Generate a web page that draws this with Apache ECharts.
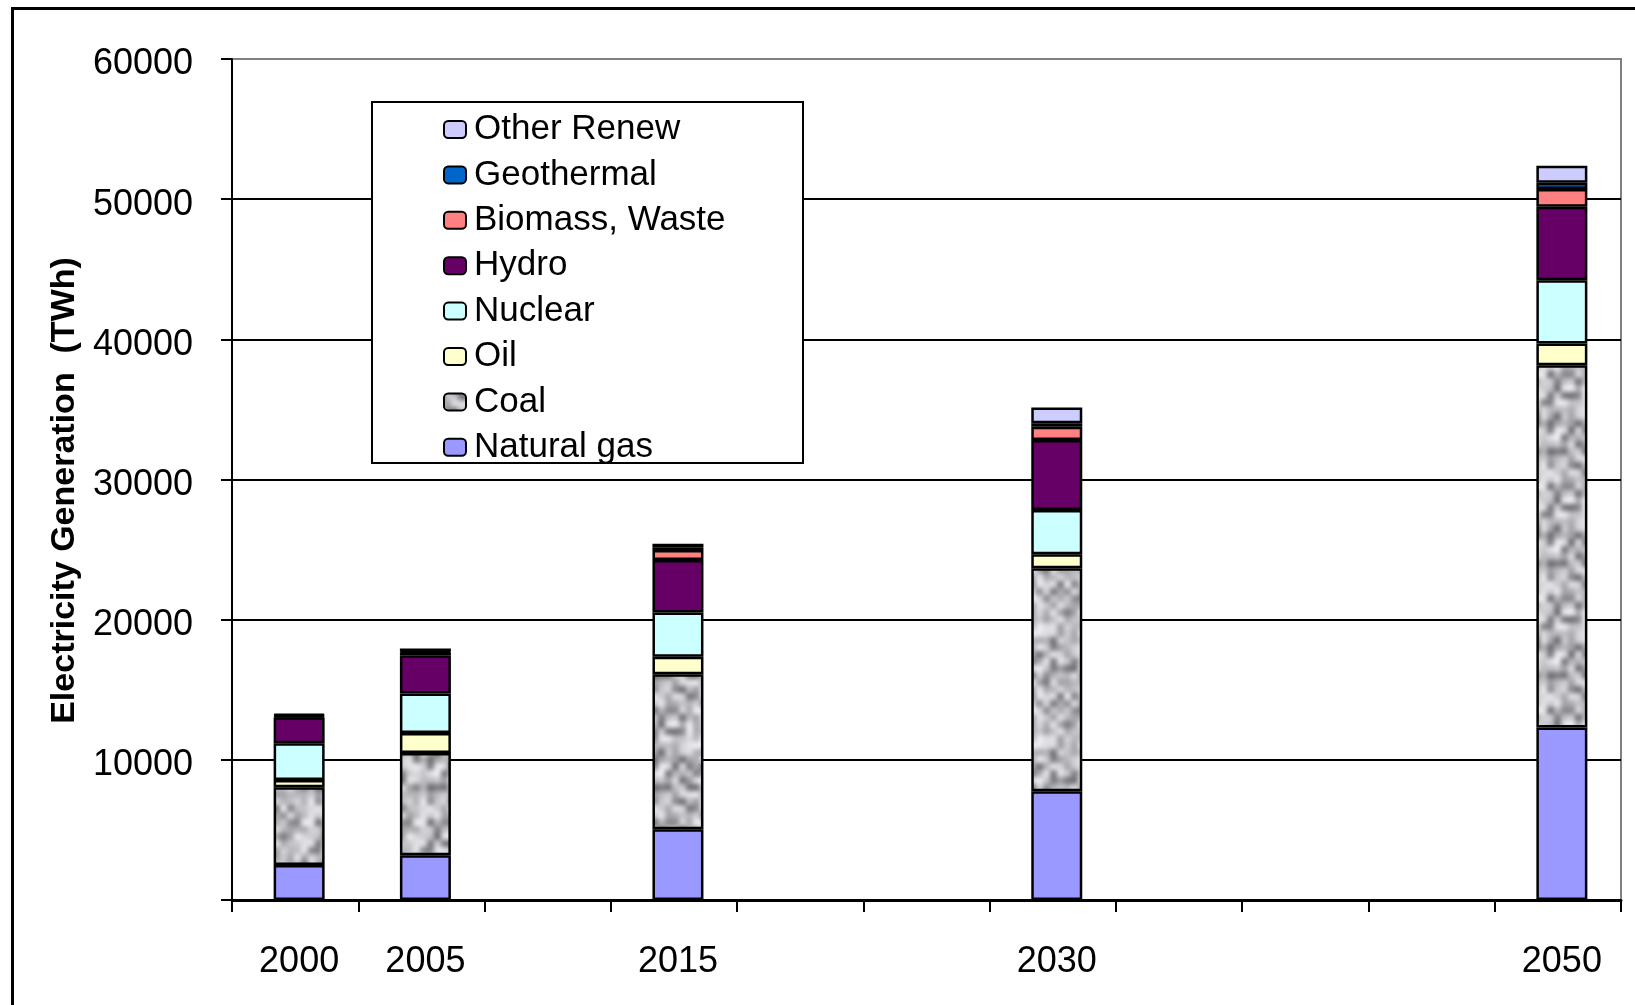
<!DOCTYPE html>
<html><head><meta charset="utf-8">
<script src="https://cdn.jsdelivr.net/npm/echarts@6/dist/echarts.min.js"></script>
<style>html,body{margin:0;padding:0;background:#fff}#c{width:1635px;height:1005px}</style>
</head><body><div id="c"></div>
<script>
// ---- data (TWh) ----
const categories = ['2000','2005','2010','2015','2020','2025','2030','2035','2040','2045','2050'];
const dataYears  = ['2000','2005','2015','2030','2050'];
const naturalGas = [2500, 3200, 5050, 7750, 12300];
const coal       = [5540, 7290, 11060, 15910, 25850];
const oil        = [520, 1420, 1240, 1000, 1550];
const nuclear    = [2620, 2820, 3170, 3160, 4520];
const hydro      = [1850, 2730, 3740, 5000, 5240];
const biomass    = [110, 200, 710, 950, 1270];
const geothermal = [40, 60, 200, 240, 450];
const otherRenew = [90, 220, 250, 1120, 1200];
const yMin = 0, yMax = 60000, yStep = 10000;
const legendOrder = ['Other Renew','Geothermal','Biomass, Waste','Hydro','Nuclear','Oil','Coal','Natural gas'];

// ---- coal texture (style only) ----
function makeTexture(){
  const n = 16, T = 112, small = document.createElement('canvas');
  small.width = n; small.height = n;
  const sc = small.getContext('2d');
  let s = 98765;
  const rnd = () => { s = (s * 1103515245 + 12345) % 2147483648; return s / 2147483648; };
  for (let y = 0; y < n; y++) for (let x = 0; x < n; x++) {
    const r = rnd();
    const g = Math.round(r < 0.2 ? 100 + r * 200 : 155 + rnd() * 90);
    sc.fillStyle = `rgb(${g},${g},${g+4})`;
    sc.fillRect(x, y, 1, 1);
  }
  // 3x3 tiled, blurred, then centre tile cropped => seamless
  const mid = document.createElement('canvas');
  mid.width = 3 * T; mid.height = 3 * T;
  const mc = mid.getContext('2d');
  mc.imageSmoothingEnabled = false;
  for (let dy = 0; dy < 3; dy++) for (let dx = 0; dx < 3; dx++)
    mc.drawImage(small, dx * T, dy * T, T, T);
  const blur = document.createElement('canvas');
  blur.width = 3 * T; blur.height = 3 * T;
  const blc = blur.getContext('2d');
  blc.filter = 'blur(2.5px)';
  blc.drawImage(mid, 0, 0);
  const big = document.createElement('canvas');
  big.width = T; big.height = T;
  big.getContext('2d').drawImage(blur, T, T, T, T, 0, 0, T, T);
  return big;
}
const coalPattern = { image: makeTexture(), repeat: 'repeat' };

function full(arr){
  return categories.map(c => { const i = dataYears.indexOf(c); return i < 0 ? null : arr[i]; });
}
const FONT = 'Liberation Sans, Arial, sans-serif';
const seriesDefs = [
  ['Natural gas', naturalGas, '#9999FF'],
  ['Coal', coal, coalPattern],
  ['Oil', oil, '#FFFFCC'],
  ['Nuclear', nuclear, '#CCFFFF'],
  ['Hydro', hydro, '#660066'],
  ['Biomass, Waste', biomass, '#FF8080'],
  ['Geothermal', geothermal, '#0066CC'],
  ['Other Renew', otherRenew, '#CCCCFF']
];

const chart = echarts.init(document.getElementById('c'), null, {renderer: 'canvas'});
chart.setOption({
  animation: false,
  backgroundColor: '#fff',
  grid: [
    { left: 232, right: 14, top: 59, bottom: 105, show: true, borderColor: '#808080', borderWidth: 2, backgroundColor: 'transparent' },
    { left: 236, right: 10, top: 59, bottom: 105 }
  ],
  legend: {
    data: legendOrder,
    orient: 'vertical',
    left: 443, top: 112,
    padding: 0,
    itemGap: 10.4,
    itemWidth: 22, itemHeight: 17,
    itemStyle: { borderColor: '#000', borderWidth: 2 },
    textStyle: { fontFamily: FONT, fontSize: 35, color: '#000', lineHeight: 35, padding: [0,0,0,3] },
    selectedMode: false
  },
  graphic: [
    { type: 'rect', left: 10, top: 6, z: 0, silent: true,
      shape: { width: 1650, height: 1020 }, style: { fill: 'none', stroke: '#000', lineWidth: 3 } },
    { type: 'rect', left: 371, top: 101, z: 3, silent: true,
      shape: { width: 431, height: 361 }, style: { fill: '#fff', stroke: '#000', lineWidth: 2 } }
  ],
  xAxis: [{
    type: 'category', gridIndex: 0,
    data: categories,
    axisLine: { lineStyle: { color: '#000', width: 3 } },
    axisTick: { show: true, length: 12, lineStyle: { color: '#000', width: 2 } },
    axisLabel: { show: false },
    splitLine: { show: false }
  }, {
    type: 'category', gridIndex: 1,
    data: categories,
    axisLine: { show: false },
    axisTick: { show: false },
    axisLabel: {
      interval: 0, margin: 44,
      fontFamily: FONT, fontSize: 36, color: '#000',
      formatter: v => dataYears.indexOf(v) >= 0 ? v : ''
    },
    splitLine: { show: false }
  }],
  yAxis: [{
    type: 'value', gridIndex: 0,
    min: yMin, max: yMax, interval: yStep,
    name: 'Electricity Generation  (TWh)',
    nameLocation: 'middle', nameGap: 145, nameRotate: 90,
    nameTextStyle: { fontFamily: FONT, fontSize: 34, fontWeight: 'bold', color: '#000', padding: [0, 22, 0, 0] },
    axisLine: { show: true, lineStyle: { color: '#000', width: 2 } },
    axisTick: { show: true, length: 11, lineStyle: { color: '#000', width: 2 } },
    axisLabel: { margin: 39, color: '#000',
      formatter: v => v === 0 ? '' : '{v|' + v + '}',
      rich: { v: { fontFamily: FONT, fontSize: 36, lineHeight: 36, color: '#000', padding: [11, 0, 0, 0] } } },
    splitLine: { show: true, showMaxLine: false, lineStyle: { color: '#000', width: 2 } }
  }, {
    type: 'value', gridIndex: 1,
    min: yMin, max: yMax, interval: yStep,
    show: false
  }],
  series: seriesDefs.map(([name, arr, color]) => ({
    name, type: 'bar', stack: 'total',
    xAxisIndex: 1, yAxisIndex: 1,
    data: full(arr),
    barWidth: 51,
    itemStyle: { color, borderColor: '#000', borderWidth: 2.5 },
    emphasis: { disabled: true }
  }))
});
</script></body></html>
